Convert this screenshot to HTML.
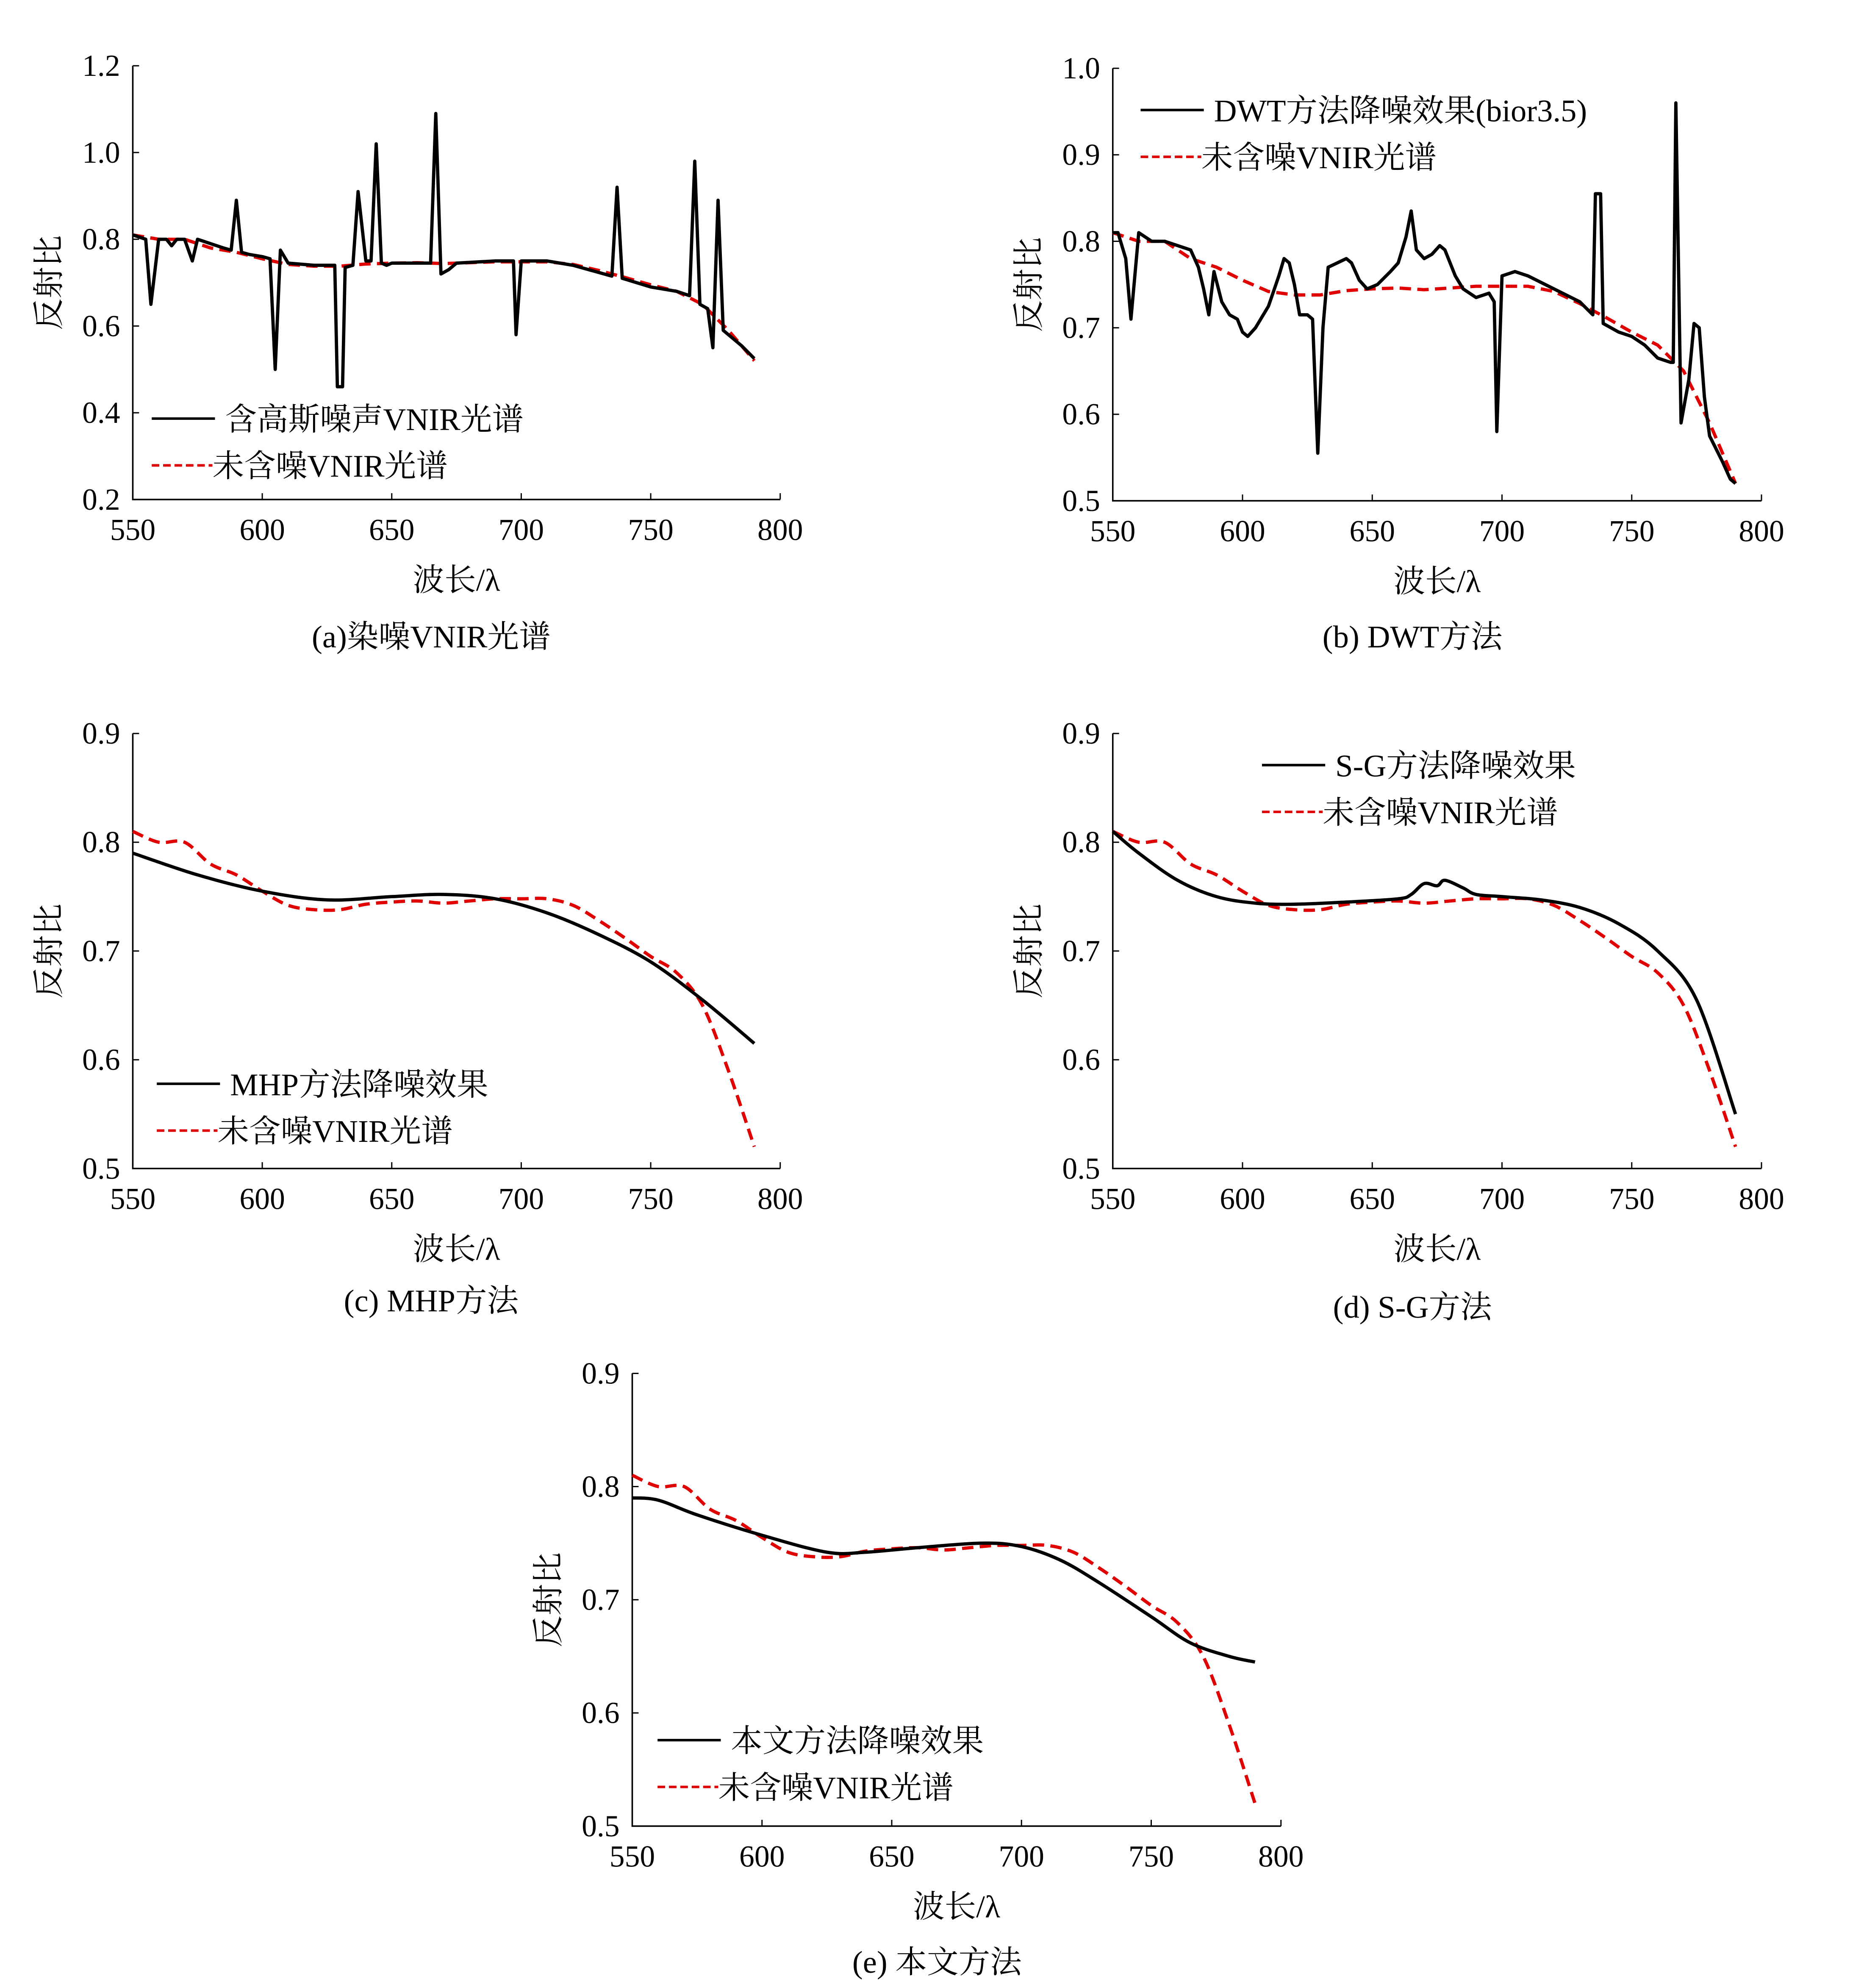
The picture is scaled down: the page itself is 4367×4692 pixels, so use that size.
<!DOCTYPE html>
<html><head><meta charset="utf-8">
<style>
html,body{margin:0;padding:0;background:#fff;}
svg{display:block;}
text{font-family:"Liberation Serif","Noto Serif CJK SC","Noto Sans CJK SC",serif;fill:#000;}
</style></head>
<body>
<svg id="fig" width="4367" height="4692" viewBox="0 0 1463 1572" preserveAspectRatio="none" xmlns="http://www.w3.org/2000/svg"></svg>
<script>
// ---------- data ----------
const refWl = [550,560,570,580,590,600,610,620,630,640,650,660,670,680,690,700,710,720,730,740,750,760,770,780,790];
const refVal = [0.81,0.80,0.80,0.78,0.77,0.755,0.742,0.738,0.738,0.743,0.745,0.746,0.744,0.746,0.748,0.748,0.748,0.742,0.728,0.712,0.695,0.68,0.65,0.59,0.52];

const noisyWl = [550,555,557,560,563,565,567,570,573,575,580,585,588,590,592,595,600,603,605,607,610,620,628,629,631,632,635,637,640,642,644,646,648,650,660,665,667,669,672,675,690,697,698,700,710,720,735,737,739,750,760,765,767,769,772,774,776,778,785,790];
const noisyVal = [0.81,0.80,0.65,0.80,0.80,0.785,0.80,0.80,0.75,0.80,0.79,0.78,0.775,0.89,0.77,0.765,0.76,0.755,0.50,0.775,0.745,0.74,0.74,0.46,0.46,0.735,0.74,0.91,0.75,0.75,1.02,0.745,0.74,0.745,0.745,0.745,1.09,0.72,0.73,0.745,0.75,0.75,0.58,0.75,0.75,0.74,0.715,0.92,0.71,0.69,0.68,0.67,0.98,0.65,0.64,0.55,0.89,0.59,0.555,0.525];

const dwtWl = [550,552,555,557,560,565,570,575,580,583,585,587,589,592,595,598,600,602,605,610,614,616,618,620,622,625,627,629,631,633,640,642,645,648,652,657,660,663,665,667,670,673,676,678,682,685,690,695,697,698,700,705,710,720,730,735,736,738,739,745,750,755,760,765,766,767,769,772,774,776,778,780,785,788,790];
const dwtVal = [0.81,0.81,0.78,0.71,0.81,0.80,0.80,0.795,0.79,0.77,0.745,0.715,0.765,0.73,0.715,0.71,0.695,0.69,0.70,0.725,0.76,0.78,0.775,0.75,0.715,0.715,0.71,0.555,0.70,0.77,0.78,0.775,0.755,0.745,0.75,0.765,0.775,0.805,0.835,0.79,0.78,0.785,0.795,0.79,0.76,0.745,0.735,0.74,0.73,0.58,0.76,0.765,0.76,0.745,0.73,0.715,0.855,0.855,0.705,0.695,0.69,0.68,0.665,0.66,0.66,0.96,0.59,0.64,0.705,0.70,0.62,0.575,0.545,0.525,0.52];

const mhpWl = [550,575,600,625,650,670,690,710,730,750,770,790];
const mhpVal = [0.79,0.77,0.755,0.747,0.75,0.752,0.748,0.735,0.715,0.69,0.655,0.615];

const sgWl = [550,560,575,590,605,620,640,660,665,670,675,678,685,690,700,715,730,745,760,775,790];
const sgVal = [0.81,0.79,0.765,0.75,0.744,0.743,0.745,0.748,0.752,0.762,0.760,0.765,0.758,0.752,0.75,0.747,0.74,0.725,0.70,0.655,0.55];

const ourWl = [550,560,575,600,625,640,660,685,700,715,730,750,765,780,790];
const ourVal = [0.79,0.788,0.775,0.757,0.742,0.742,0.746,0.75,0.747,0.735,0.715,0.685,0.662,0.65,0.645];

const xTicks = [550,600,650,700,750,800];
const yTicksA = [0.2,0.4,0.6,0.8,1.0,1.2];
const yTicksB = [0.5,0.6,0.7,0.8,0.9,1.0];
const yTicksC = [0.5,0.6,0.7,0.8,0.9];

// ---------- drawing ----------
const NS="http://www.w3.org/2000/svg";
const svg=document.getElementById('fig');
function el(tag,attrs,parent){const e=document.createElementNS(NS,tag);for(const k in attrs)e.setAttribute(k,attrs[k]);(parent||svg).appendChild(e);return e;}
function txt(parent,x,y,s,size,anchor){const t=el('text',{x:x,y:y,'font-size':size,'text-anchor':anchor||'start'},parent);t.textContent=s;return t;}

function smoothPath(pts){
  let d=`M${pts[0][0].toFixed(2)},${pts[0][1].toFixed(2)}`;
  for(let i=0;i<pts.length-1;i++){
    const p0=pts[Math.max(0,i-1)],p1=pts[i],p2=pts[i+1],p3=pts[Math.min(pts.length-1,i+2)];
    const c1x=p1[0]+(p2[0]-p0[0])/6,c1y=p1[1]+(p2[1]-p0[1])/6;
    const c2x=p2[0]-(p3[0]-p1[0])/6,c2y=p2[1]-(p3[1]-p1[1])/6;
    d+=` C${c1x.toFixed(2)},${c1y.toFixed(2)} ${c2x.toFixed(2)},${c2y.toFixed(2)} ${p2[0].toFixed(2)},${p2[1].toFixed(2)}`;
  }
  return d;
}

function panel(id,cfg){
  const g=el('g',{},svg);
  
  
  const sx=v=>cfg.x0+(v-550)/(800-550)*(cfg.x1-cfg.x0);
  const sy=v=>cfg.yb+(v-cfg.ymin)/(cfg.ymax-cfg.ymin)*(cfg.yt-cfg.yb);
  const ax=el('path',{d:`M${cfg.x0},${cfg.yt}V${cfg.yb}H${cfg.x1}`,stroke:'#000','stroke-width':1.2,fill:'none'},g);
  
  
  xTicks.forEach(v=>{
    el('line',{x1:sx(v),x2:sx(v),y1:cfg.yb,y2:cfg.yb-5,stroke:'#000','stroke-width':1},g);
    const t=txt(g,sx(v),cfg.yb+32,String(v),24,'middle');
    
    
  });
  cfg.yticks.forEach(v=>{
    el('line',{x1:cfg.x0,x2:cfg.x0+5,y1:sy(v),y2:sy(v),stroke:'#000','stroke-width':1},g);
    const t=txt(g,cfg.x0-10,sy(v)+8,v.toFixed(1),24,'end');
    
    
  });
  const xl=txt(g,(cfg.x0+cfg.x1)/2,cfg.yb+72,'波长/λ',25,'middle');
  
  
  const ym=(cfg.yt+cfg.yb)/2, yx=cfg.x0-58;
  const yl=el('text',{x:yx,y:ym,'font-size':25,'text-anchor':'middle',transform:`rotate(-90 ${yx} ${ym})`},g);
  yl.textContent='反射比';
  
  
  const cap=txt(g,cfg.capX,cfg.capY,cfg.caption,25,'middle');
  
  
  const line=(wl,val,style,name,smooth)=>{
    const pts=wl.map((w,i)=>[sx(w),sy(val[i])]);
    let p;
    if(smooth) p=el('path',{d:smoothPath(pts),fill:'none',...style},g);
    else p=el('polyline',{points:pts.map(q=>q[0].toFixed(2)+','+q[1].toFixed(2)).join(' '),fill:'none','stroke-linejoin':'round',...style},g);
    
    
  };
  line(refWl,refVal,{stroke:'#e00000','stroke-width':2.6,'stroke-dasharray':'9,5'},'clean-spectrum-line',cfg.smooth);
  line(cfg.wl,cfg.val,{stroke:'#000','stroke-width':2.6},'denoised-line',cfg.smooth);
  // legend
  const lx=cfg.lx, ly=cfg.ly;
  const l1=el('line',{x1:lx,x2:lx+50,y1:ly,y2:ly,stroke:'#000','stroke-width':2},g);
  
  
  txt(g,lx+58,ly+9,cfg.leg1,25);
  const l2=el('line',{x1:lx,x2:lx+48,y1:ly+37,y2:ly+37,stroke:'#e00000','stroke-width':2,'stroke-dasharray':'6,3'},g);
  
  
  txt(g,lx+48,ly+46,'未含噪VNIR光谱',25);
}

panel('panel-a',{x0:105,x1:617,yt:52,yb:395,ymin:0.2,ymax:1.2,yticks:yTicksA,wl:noisyWl,val:noisyVal,caption:'(a)染噪VNIR光谱',capX:341,capY:512,lx:120,ly:331,leg1:'含高斯噪声VNIR光谱',smooth:false});
panel('panel-b',{x0:880,x1:1393,yt:54,yb:396,ymin:0.5,ymax:1.0,yticks:yTicksB,wl:dwtWl,val:dwtVal,caption:'(b) DWT方法',capX:1117,capY:512,lx:902,ly:87,leg1:'DWT方法降噪效果(bior3.5)',smooth:false});
panel('panel-c',{x0:105,x1:617,yt:580,yb:924,ymin:0.5,ymax:0.9,yticks:yTicksC,wl:mhpWl,val:mhpVal,caption:'(c) MHP方法',capX:341,capY:1037,lx:124,ly:857,leg1:'MHP方法降噪效果',smooth:true});
panel('panel-d',{x0:880,x1:1393,yt:580,yb:924,ymin:0.5,ymax:0.9,yticks:yTicksC,wl:sgWl,val:sgVal,caption:'(d) S-G方法',capX:1117,capY:1042,lx:998,ly:605,leg1:'S-G方法降噪效果',smooth:true});
panel('panel-e',{x0:500,x1:1013,yt:1086,yb:1444,ymin:0.5,ymax:0.9,yticks:yTicksC,wl:ourWl,val:ourVal,caption:'(e) 本文方法',capX:741,capY:1560,lx:520,ly:1376,leg1:'本文方法降噪效果',smooth:true});
</script>
</body></html>
